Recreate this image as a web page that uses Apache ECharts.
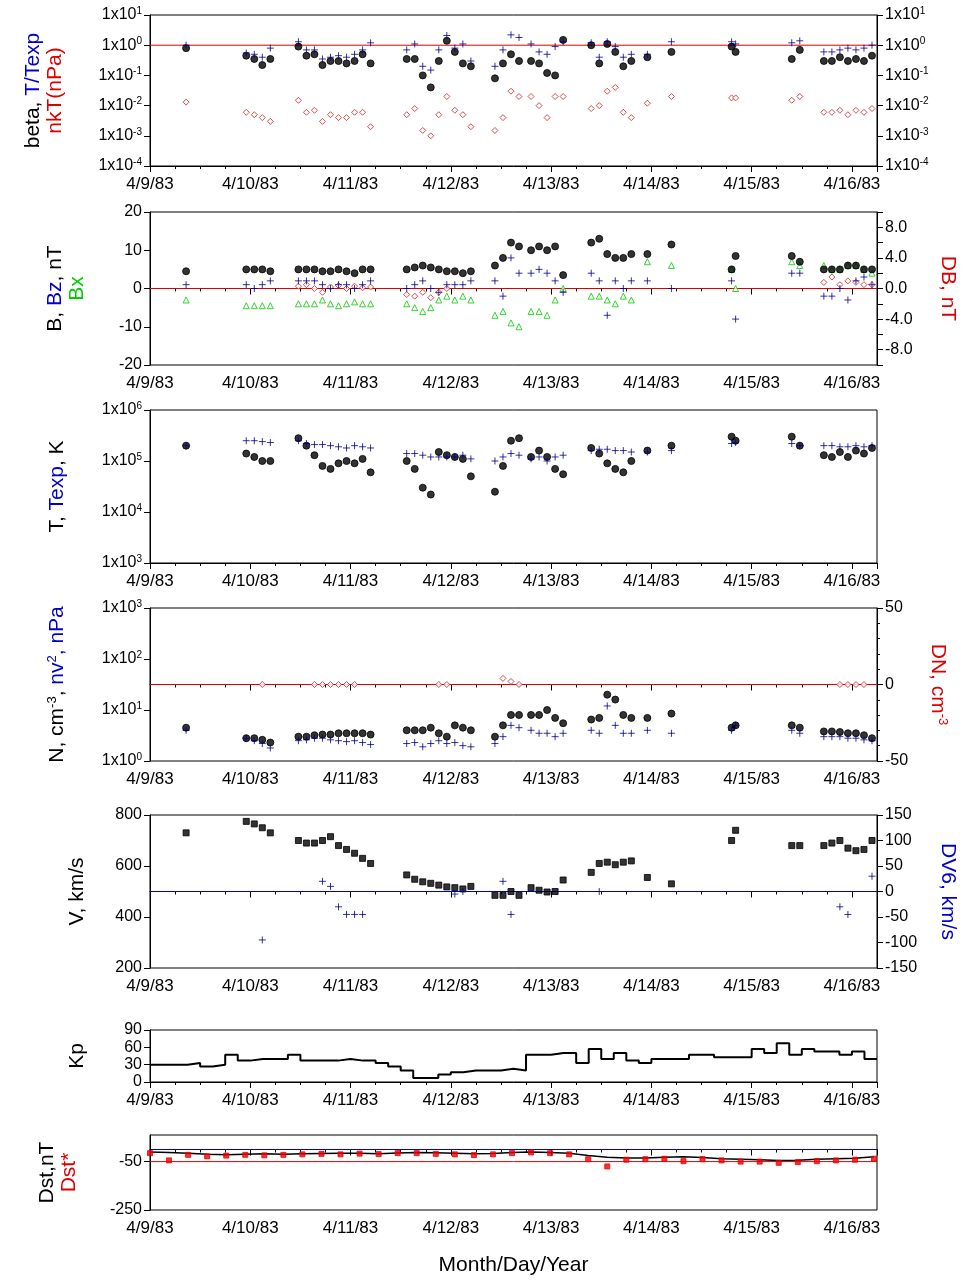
<!DOCTYPE html>
<html><head><meta charset="utf-8">
<script src="https://cdn.jsdelivr.net/npm/echarts@6/dist/echarts.min.js"></script>
<style>html,body{margin:0;background:#fff}#c{width:976px;height:1285px}</style>
</head><body><div id="c"></div>
<script>
var dayLabels=['4/9/83','4/10/83','4/11/83','4/12/83','4/13/83','4/14/83','4/15/83','4/16/83'];
var t=[0.36, 0.96,1.04,1.12,1.2, 1.48,1.56,1.64,1.72,1.8,1.88,1.96,2.04,2.12,2.2, 2.56,2.64,2.72,2.8,2.88,2.96, 3.04,3.12,3.2, 3.44,3.52,3.6,3.68, 3.8,3.88,3.96, 4.04,4.12, 4.4,4.48,4.56,4.64,4.72,4.8, 4.96,5.2, 5.8,5.84, 6.4,6.48, 6.72,6.8,6.88,6.96,7.04,7.12,7.2];
var beta=[0.8, 0.45,0.35,0.22,0.35, 0.9,0.45,0.5,0.22,0.3,0.3,0.25,0.3,0.5,0.25, 0.35,0.35,0.1,0.04,0.3,1.4, 0.6,0.25,0.2, 0.08,0.25,0.5,0.3, 0.3,0.25,0.12, 0.1,1.5, 1.0,0.25,1.1,0.6,0.2,0.3, 0.4,0.6, 0.9,0.6, 0.35,0.7, 0.3,0.3,0.4,0.3,0.35,0.3,0.45];
var tRatio=[1, 0.55,0.5,0.4,0.8, 1.3,0.7,0.7,0.35,0.4,0.45,0.4,0.5,0.7,1.2, 0.7,1.1,0.2,0.15,0.7,2.1, 0.8,1.1,0.3, 0.2,0.7,2.2,1.8, 1.1,0.6,0.5, 0.9,1.3, 1.2,0.4,1.3,0.9,0.4,0.5, 0.5,1.3, 1.3,1.1, 1.2,1.4, 0.6,0.6,0.7,0.8,0.7,0.8,1.0];
var nkT=[0.013, 0.006,0.005,0.004,0.003, 0.015,0.006,0.007,0.003,0.005,0.004,0.004,0.006,0.006,0.002, 0.005,0.008,0.0015,0.001,0.005,0.02, 0.007,0.005,0.002, 0.0015,0.004,0.03,0.02, 0.02,0.01,0.004, 0.02,0.02, 0.008,0.01,0.03,0.04,0.006,0.004, 0.012,0.02, 0.018,0.018, 0.015,0.02, 0.006,0.006,0.007,0.005,0.007,0.006,0.008];
var bMag=[4.5, 5,5,5,4.5, 5,5,5,4.5,4.5,5,4.5,4,5,5, 5,5.5,6,5.5,5,4.5, 4.5,4,4.5, 6,8,12,11, 10,11,10, 11,3.5, 12,13,9,8,8,9, 9,11.5, 5,8.5, 8.5,7, 5,5,5,6,6,5,5];
var bz=[1, 1,0,1,2, 2,2,2,1,0,1,1,0,1,2, 0,1,2,0,-1,1, 1,1,2, 2,-2,8,4, 4,5,4, 2,-1, 4,2,-7,2,0,2, 2,0, 2,-8, 4,4, -2,-2,0,-3,2,3,1];
var bx=[-3, -4.5,-4.5,-4.5,-4.5, -4,-4,-4,-3,-4,-4.5,-4,-3.5,-4,-4, -4,-5,-6,-5,-3,-2, -3,-2,-3, -7,-6,-9,-10, -6,-6,-7, -3,0, -2,-2,-3,-4,-2,-3, 7,6, 5,0, 7,6, 6,5,5,6,6,5,4];
var dB=[null, null,null,null,null, 0.3,0.5,0,-0.5,0.2,0.4,0,0.3,0.1,0.2, -0.8,-1,-0.5,-1.2,-0.5,0, null,null,null, null,null,null,null, null,null,null, null,null, null,null,null,null,null,null, null,null, null,null, null,null, 0.8,1.5,0.5,1,0.8,0.5,0.5];
var temp=[2e5, 1.4e5,1.2e5,1e5,1e5, 2.8e5,2e5,1.3e5,8e4,7e4,9e4,1e5,9e4,1.1e5,6e4, 1e5,7e4,3e4,2.2e4,1.5e5,1.3e5, 1.2e5,1.1e5,5e4, 2.5e4,8e4,2.5e5,2.8e5, 1.2e5,1.6e5,1.2e5, 7e4,5.5e4, 1.8e5,1.4e5,9e4,7e4,6e4,1e5, 1.6e5,2e5, 3e5,2.5e5, 3e5,2e5, 1.3e5,1.2e5,1.5e5,1.2e5,1.6e5,1.4e5,1.8e5];
var texp=[2e5, 2.5e5,2.5e5,2.4e5,2.3e5, 2.5e5,2.2e5,2.1e5,2.1e5,2e5,1.9e5,1.8e5,2e5,1.9e5,1.8e5, 1.4e5,1.4e5,1.3e5,1.2e5,1.2e5,1.2e5, 1.2e5,1.3e5,1.1e5, 1e5,1.2e5,1.4e5,1.3e5, 1.1e5,1.2e5,1e5, 1.2e5,1.3e5, 1.6e5,1.7e5,1.7e5,1.6e5,1.6e5,1.5e5, 1.5e5,1.6e5, 2.2e5,2.3e5, 2.2e5,2e5, 2e5,2e5,1.9e5,1.9e5,2e5,1.9e5,2e5];
var dens=[4.5, 2.8,2.8,2.6,2.3, 3,3,3.2,3.3,3.3,3.5,3.5,3.5,3.5,3.3, 4,4,4,4.5,3.5,3, 5,4.5,4, 3,5,8,8, 8,8,10, 7,5.5, 6.5,7,20,16,8,7, 7,8.5, 4.5,5, 5,4.5, 3.8,3.8,3.7,3.5,3.5,3.2,2.8];
var nv2=[4, 2.8,2.5,2.2,1.8, 2.5,2.6,2.8,2.8,2.6,2.5,2.4,2.5,2.3,2.1, 2.2,2.3,1.9,2.2,2.5,2.2, 2.3,2,1.9, 2.2,3,5,4.5, 4,3.5,3.5, 3,3.5, 4,3.5,12,5,3.5,3.5, 4,3.5, 4,5, 4,3.5, 3,3,3,2.8,2.8,2.6,2.5];
var dN=[null, null,null,0,null, null,null,0,0,0,0,0,0,null,null, null,null,null,null,0,0, null,null,null, null,4,2,0, null,null,null, null,null, null,null,null,null,null,null, null,null, null,null, null,null, null,null,0,0,0,0,null];
var vel=[730, 775,765,750,730, 700,690,690,700,715,680,665,650,630,610, 565,548,538,532,525,518, 515,510,520, 485,485,500,485, 515,505,498, 500,545, 575,610,615,605,615,620, 555,530, 700,740, 680,680, 680,690,700,670,660,665,700];
var dV=[null, null,null,-95,null, null,null,null,20,10,-30,-45,-45,-45,null, null,null,null,null,null,null, -5,0,null, null,20,-45,null, null,null,null, null,null, null,0,null,null,null,null, null,null, null,null, null,null, null,null,-30,-45,null,null,30];
var kp=[30,30,30,33,27,30,47,37, 40,40,40,47,37,37,37,40, 37,37,33,27,20,7,7,13, 17,20,20,20,23,20,47,47, 50,50,33,57,40,50,37,33, 40,40,40,47,47,43,43,43, 57,50,67,47,57,53,53,47, 53,40];
var dst=[-10,-12,-15,-20,-22,-20,-18,-20,-18,-16,-15,-15,-17,-14,-12,-13,-15,-18,-16,-12,-10,-12,-15,-25,-32,-35,-35,-32,-30,-33,-38,-40,-42,-45,-44,-40,-38,-36,-30];
var dstStar=[-15,-45,-22,-28,-25,-22,-24,-22,-20,-18,-20,-17,-19,-15,-15,-18,-20,-23,-20,-15,-12,-15,-20,-40,-70,-42,-40,-38,-48,-40,-45,-50,-50,-55,-52,-48,-45,-42,-38];

function zip(a){return t.map(function(x,i){return [x,a[i]];}).filter(function(p){return p[1]!==null;});}
var font='Liberation Sans, Arial, sans-serif';
var tops=[15,212,410,608,815,1030,1135], hts=[151,153,153,153,153,52,75];
var sup={s:{fontSize:10,verticalAlign:'top',padding:[0,0,8,0],fontFamily:font,color:'#000'}};
function logFmt(v){return '1x10{s|'+Math.round(Math.log10(v))+'}';}
var grids=[],xAxes=[],yAxes=[],series=[];
tops.forEach(function(tp,i){
  grids.push({left:150,right:99,top:tp,height:hts[i],show:true,borderColor:'#000',borderWidth:1});
  xAxes.push({type:'value',gridIndex:i,min:0,max:7.25,interval:1,
    axisLine:{lineStyle:{color:'#000'}},axisTick:{inside:false,length:6,lineStyle:{color:'#000'}},
    minorTick:{show:true,splitNumber:4,length:3,lineStyle:{color:'#000'}},splitLine:{show:false},
    axisLabel:{color:'#000',fontSize:17,fontFamily:font,showMaxLabel:false,margin:10,formatter:function(v){return dayLabels[Math.round(v)]||'';}},
    name:i==6?'Month/Day/Year':'',nameLocation:'middle',nameGap:45,nameTextStyle:{fontSize:21,fontFamily:font,color:'#000'}});
});
function yax(o){
  var lab={color:'#000',fontSize:16,fontFamily:font,rich:sup};
  var nts={fontSize:21,fontFamily:font,color:'#000',lineHeight:22};
  var b={axisLine:{show:true,lineStyle:{color:'#000'}},axisTick:{show:true,length:6,lineStyle:{color:'#000'}},splitLine:{show:false},
    nameLocation:'middle',nameRotate:90};
  for(var k in o){b[k]=o[k];}
  b.axisLabel=Object.assign(lab,o.axisLabel||{});
  b.nameTextStyle=Object.assign(nts,o.nameTextStyle||{});
  yAxes.push(b); return yAxes.length-1;}
var nameRich=function(){return {k:{color:'#000',fontSize:21,fontFamily:font},ks:{color:'#000',fontSize:13,fontFamily:font,verticalAlign:'top'},b:{color:'#0000cc',fontSize:21,fontFamily:font},r:{color:'#dd0000',fontSize:21,fontFamily:font},g:{color:'#00cc00',fontSize:21,fontFamily:font},s:{color:'#0000cc',fontSize:13,fontFamily:font,verticalAlign:'top'},rs:{color:'#dd0000',fontSize:13,fontFamily:font,verticalAlign:'top'}};};
var y0=yax({type:'log',gridIndex:0,min:1e-4,max:10,logBase:10,position:'left',axisLabel:{formatter:logFmt},
  name:'{k|beta, }{b|T/Texp}\n{r|nkT(nPa)}',nameGap:84,nameTextStyle:{rich:nameRich()}});
var y0r=yax({type:'log',gridIndex:0,min:1e-4,max:10,logBase:10,position:'right',axisLabel:{formatter:logFmt}});
var y1=yax({type:'value',gridIndex:1,min:-20,max:20,interval:10,position:'left',
  name:'{k|B, }{b|Bz}{k|, nT}\n{g|Bx}',nameGap:62,nameTextStyle:{rich:nameRich()}});
var y1r=yax({type:'value',gridIndex:1,min:-10,max:10,interval:2,position:'right',
  axisLabel:{formatter:function(v){return (v%4===0&&Math.abs(v)<10)?v.toFixed(1):'';}},
  name:'DB, nT',nameGap:60,nameRotate:-90,nameTextStyle:{color:'#dd0000'}});
var y2=yax({type:'log',gridIndex:2,min:1e3,max:1e6,logBase:10,position:'left',axisLabel:{formatter:logFmt},
  name:'{k|T, }{b|Texp}{k|, K}',nameGap:82,nameTextStyle:{rich:nameRich()}});
var y3=yax({type:'log',gridIndex:3,min:1,max:1e3,logBase:10,position:'left',axisLabel:{formatter:logFmt},
  name:'{k|N, cm}{ks|-3}{k|, }{b|nv}{s|2}{b|, nPa}',nameGap:82,nameTextStyle:{rich:nameRich()}});
var y3r=yax({type:'value',gridIndex:3,min:-50,max:50,interval:50,position:'right',
  axisLabel:{formatter:function(v){return String(v);}},minorTick:{show:true,splitNumber:5,length:3,lineStyle:{color:'#000'}},
  name:'{r|DN, cm}{rs|-3}',nameGap:50,nameRotate:-90,nameTextStyle:{rich:nameRich()}});
var y4=yax({type:'value',gridIndex:4,min:200,max:800,interval:200,position:'left',name:'V, km/s',nameGap:62});
var y4r=yax({type:'value',gridIndex:4,min:-150,max:150,interval:50,position:'right',name:'DV6, km/s',nameGap:60,nameRotate:-90,nameTextStyle:{color:'#0000cc'}});
var y5=yax({type:'value',gridIndex:5,min:0,max:90,interval:30,position:'left',name:'Kp',nameGap:62});
var y6=yax({type:'value',gridIndex:6,min:-250,max:60,interval:200,position:'left',
  axisLabel:{showMaxLabel:false,formatter:function(v){return (v===-50||v===-250)?String(v):'';}},
  name:'{k|Dst,nT}\n{r|Dst*}',nameGap:70,nameTextStyle:{rich:nameRich()}});

var plus='path://M0,5L10,5M5,0L5,10';
function sc(x,y,data,sym,size,fill,stroke,z){series.push({type:'scatter',xAxisIndex:x,yAxisIndex:y,data:data,symbol:sym,symbolSize:size,
  itemStyle:{color:fill,borderColor:stroke,borderWidth:1},z:z||2,silent:true});}
function hline(x,y,val,color){series.push({type:'line',xAxisIndex:x,yAxisIndex:y,data:[[0,val],[7.25,val]],symbol:'none',lineStyle:{color:color,width:1},z:1,silent:true});}
hline(0,y0,1,'#dd0000');
sc(0,y0,zip(beta),'circle',7,'#000','#000',3);
sc(0,y0,zip(tRatio),plus,7,'none','#000088',4);
sc(0,y0,zip(nkT),'diamond',6,'#fff','#cc2222',2);
hline(1,y1r,0,'#dd0000');
sc(1,y1,zip(bMag),'circle',7,'#000','#000',3);
sc(1,y1,zip(bz),plus,7,'none','#000088',4);
sc(1,y1,zip(bx),'triangle',6,'#fff','#00cc00',2);
sc(1,y1r,zip(dB),'diamond',6,'#fff','#cc2222',2);
sc(2,y2,zip(temp),'circle',7,'#000','#000',3);
sc(2,y2,zip(texp),plus,7,'none','#000088',4);
hline(3,y3r,0,'#dd0000');
sc(3,y3,zip(dens),'circle',7,'#000','#000',3);
sc(3,y3,zip(nv2),plus,7,'none','#000088',4);
sc(3,y3r,zip(dN),'diamond',6,'#fff','#cc2222',2);
hline(4,y4r,0,'#0000cc');
sc(4,y4,zip(vel),'rect',6,'#000','#000',3);
sc(4,y4r,zip(dV),plus,7,'none','#000088',4);
series.push({type:'line',xAxisIndex:5,yAxisIndex:y5,step:'start',symbol:'none',lineStyle:{color:'#000',width:2},
  data:[[0,kp[0]]].concat(kp.map(function(v,i){return [(i+1)*0.125,v];})),silent:true});
hline(6,y6,0,'#0000cc');
hline(6,y6,-50,'#dd0000');
series.push({type:'line',xAxisIndex:6,yAxisIndex:y6,symbol:'none',lineStyle:{color:'#000',width:1.5},
  data:dst.map(function(v,i){return [i*0.19,v];}),silent:true,z:3});
sc(6,y6,dstStar.map(function(v,i){return [i*0.19,v];}),'rect',5,'#ee0000','#ee0000',4);

var ch=echarts.init(document.getElementById('c'),null,{renderer:'canvas'});
ch.setOption({animation:false,backgroundColor:'#fff',grid:grids,xAxis:xAxes,yAxis:yAxes,series:series});
</script></body></html>
